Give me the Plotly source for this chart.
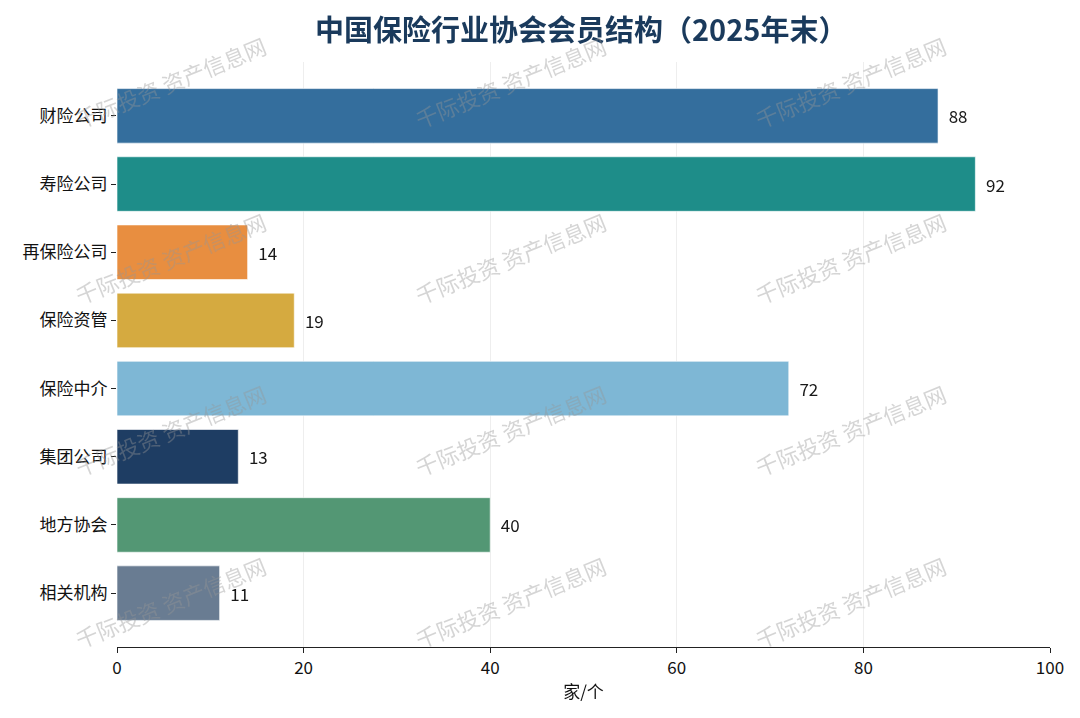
import plotly.graph_objects as go

# Data
categories = ['财险公司', '寿险公司', '再保险公司', '保险资管', '保险中介', '集团公司', '地方协会', '相关机构']
members = [88, 92, 14, 19, 72, 13, 40, 11]
bar_colors = ['#2e6a9a', '#178a86', '#e88b3a', '#d4a83a', '#7ab5d4', '#17375e', '#4e9470', '#65788f']

FONT = 'Noto Sans CJK SC'

fig = go.Figure()
fig.add_trace(go.Bar(
    x=members, y=categories, orientation='h',
    marker=dict(color=bar_colors, line=dict(color='rgba(255,255,255,0.6)', width=1)),
    opacity=0.97, width=0.8,
    text=['  ' + str(v) for v in members], textposition='outside',
    textfont=dict(size=17, color='#111111', family=FONT),
    cliponaxis=False, hoverinfo='x+y',
))

# watermark grid (pixel centres of the repeated stamp, plot area 117..1050 x 62..647)
wm_x = [170, 510, 850]
wm_y = [82, 258, 430, 602]
for yy in wm_y:
    for xx in wm_x:
        fig.add_annotation(
            text='千际投资 资产信息网', xref='paper', yref='paper',
            x=(xx - 117) / 933, y=(647 - yy) / 585, showarrow=False,
            xanchor='center', yanchor='middle',
            textangle=-22, font=dict(size=22, color='rgba(150,150,150,0.4)', family=FONT),
        )

# page adds an 8px body margin, so margins are shifted by 8
fig.update_layout(
    width=1080, height=718,
    paper_bgcolor='white', plot_bgcolor='white',
    margin=dict(l=109, r=38, t=54, b=79),
    title=dict(text='<b>中国保险行业协会会员结构（2025年末）</b>', xref='paper', x=0.4975, xanchor='center',
               y=0.968, yanchor='middle',
               font=dict(size=29, color='#1a3a5c', family=FONT)),
    font=dict(family=FONT, color='#111111'),
    showlegend=False,
)
fig.update_xaxes(
    range=[0, 100], tickvals=[0, 20, 40, 60, 80, 100], automargin=False,
    showgrid=True, gridcolor='#eeeeee', gridwidth=1,
    showline=True, linecolor='#222222', linewidth=1.2,
    ticks='outside', ticklen=5, tickcolor='#222222',
    tickfont=dict(size=17, family=FONT),
    title=dict(text='家/个', font=dict(size=17, family=FONT), standoff=8),
    zeroline=False,
)
fig.update_yaxes(
    range=[7.79, -0.79], showgrid=False, showline=False, automargin=False,
    ticks='outside', ticklen=5, tickcolor='#222222',
    tickfont=dict(size=17, family=FONT), zeroline=False,
)

fig.write_html("out.html")
